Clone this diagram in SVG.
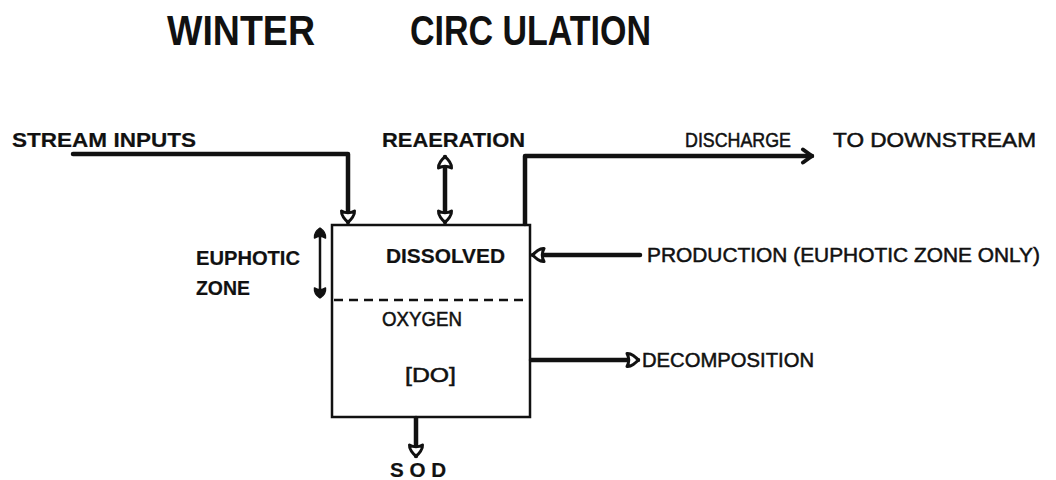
<svg xmlns="http://www.w3.org/2000/svg" width="1056" height="480" viewBox="0 0 1056 480">
<style>
.t{font-family:"Liberation Sans",Arial,sans-serif;font-size:20px;fill:#111;stroke:#111;stroke-width:0.5;}
.b{font-weight:bold;stroke-width:0.2;}
.title{font-family:"Liberation Sans",Arial,sans-serif;font-size:42px;font-weight:bold;fill:#111;}
.ln{fill:none;stroke:#111;stroke-width:4.5;stroke-linejoin:round;stroke-linecap:round;}
.thin{fill:none;stroke:#111;stroke-width:2.5;}
</style>
<defs>
<marker id="hollow" viewBox="-15 -10 18 20" refX="0" refY="0" markerWidth="18" markerHeight="20" orient="auto-start-reverse" markerUnits="userSpaceOnUse">
<path d="M0,0 C-2,-3 -7,-7 -11,-6.5 Q-7.5,0 -11,6.5 C-7,7 -2,3 0,0 Z" fill="#fff" stroke="#111" stroke-width="3" stroke-linejoin="round"/>
</marker>
<marker id="open" viewBox="-14 -9 16 18" refX="0" refY="0" markerWidth="16" markerHeight="18" orient="auto" markerUnits="userSpaceOnUse">
<path d="M-9,-6.5 L0,0 L-9,6.5" fill="none" stroke="#111" stroke-width="4" stroke-linejoin="round" stroke-linecap="round"/>
</marker>
<marker id="solid" viewBox="-13 -8 15 16" refX="0" refY="0" markerWidth="15" markerHeight="16" orient="auto-start-reverse" markerUnits="userSpaceOnUse">
<path d="M0,0 C-2,-3 -6,-6 -10,-5.5 Q-6.5,0 -10,5.5 C-6,6 -2,3 0,0 Z" fill="#111" stroke="#111" stroke-width="1.5" stroke-linejoin="round"/>
</marker>
</defs>
<g id="title">
<text class="title" x="167" y="45" textLength="148" lengthAdjust="spacingAndGlyphs">WINTER</text>
<text class="title" x="410" y="45" textLength="241" lengthAdjust="spacingAndGlyphs">CIRC ULATION</text>
</g>
<g id="do-box">
<rect x="332" y="225" width="198" height="192" fill="none" stroke="#111" stroke-width="2.5"/>
<line x1="334" y1="300" x2="528" y2="300" stroke="#111" stroke-width="2.5" stroke-dasharray="9,6"/>
<text class="t b" x="386" y="263" textLength="119" lengthAdjust="spacingAndGlyphs">DISSOLVED</text>
<text class="t" x="382" y="326" textLength="80" lengthAdjust="spacingAndGlyphs">OXYGEN</text>
<text class="t" x="405" y="382" textLength="51" lengthAdjust="spacingAndGlyphs">[DO]</text>
</g>
<g id="stream-inputs"><text class="t b" x="12" y="147" textLength="184" lengthAdjust="spacingAndGlyphs">STREAM  INPUTS</text></g>
<g id="reaeration"><text class="t b" x="382" y="147" textLength="143" lengthAdjust="spacingAndGlyphs">REAERATION</text></g>
<g id="discharge">
<text class="t" x="685" y="147" textLength="106" lengthAdjust="spacingAndGlyphs">DISCHARGE</text>
<text class="t" x="833" y="147" textLength="203" lengthAdjust="spacingAndGlyphs">TO  DOWNSTREAM</text>
</g>
<g id="production"><text class="t" x="647" y="262" textLength="393" lengthAdjust="spacingAndGlyphs">PRODUCTION   (EUPHOTIC ZONE ONLY)</text></g>
<g id="decomposition"><text class="t" x="642" y="367" textLength="172" lengthAdjust="spacingAndGlyphs">DECOMPOSITION</text></g>
<g id="sod"><text class="t b" x="390" y="477" textLength="56" lengthAdjust="spacingAndGlyphs">S O D</text></g>
<g id="euphotic-zone">
<text class="t b" x="196" y="265" textLength="104" lengthAdjust="spacingAndGlyphs">EUPHOTIC</text>
<text class="t b" x="196" y="295" textLength="54" lengthAdjust="spacingAndGlyphs">ZONE</text>
</g>
<g id="connectors">
<path class="ln" d="M73,154 L348,154 L348,222" marker-end="url(#hollow)"/>
<line class="ln" x1="445" y1="157" x2="445" y2="222" marker-start="url(#hollow)" marker-end="url(#hollow)"/>
<path class="ln" d="M525,224 L525,156 L812,156" marker-end="url(#open)"/>
<line class="ln" x1="640" y1="255" x2="533" y2="255" marker-end="url(#hollow)"/>
<line class="ln" x1="531" y1="360" x2="638" y2="360" marker-end="url(#hollow)"/>
<line class="ln" x1="416" y1="418" x2="416" y2="456" marker-end="url(#hollow)"/>
<line class="thin" x1="320" y1="228" x2="320" y2="298" marker-start="url(#solid)" marker-end="url(#solid)"/>
</g>
</svg>
